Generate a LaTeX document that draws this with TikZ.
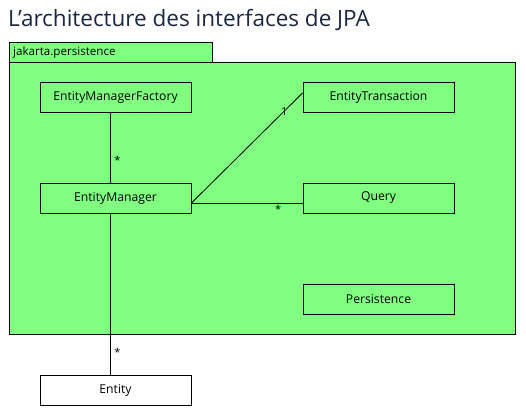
\documentclass[tikz,border=0pt]{standalone}
\usepackage{fontspec}
\setmainfont{Open Sans}
\usetikzlibrary{positioning}
\definecolor{pkggreen}{RGB}{128,255,128}
\definecolor{titleblue}{RGB}{28,40,64}
\tikzset{
  classbox/.style={draw=black, line width=0.9pt, fill=pkggreen, minimum width=151pt, minimum height=30pt, inner sep=0pt, font=\fontsize{12.2}{14}\selectfont},
  extbox/.style={classbox, fill=white},
  assoc/.style={draw=black, line width=0.8pt},
  mult/.style={font=\fontsize{11}{12}\selectfont, inner sep=0pt}
}

\begin{document}
\begin{tikzpicture}[x=1pt, y=-1pt]
		
		\useasboundingbox (0,0) rectangle (526,414);
		
		% Title
		\node[anchor=base west, inner sep=0pt, text=titleblue, font=\fontsize{22.5}{26}\selectfont] (title) at (8,27) {L’architecture des interfaces de JPA};
		
		% Package
		\draw[line width=0.9pt, fill=pkggreen] (9,42) rectangle (212,62);
		\draw[line width=0.9pt, fill=pkggreen] (9,62) rectangle (515,334);
		\node[anchor=west, inner sep=0pt, font=\fontsize{11.6}{13}\selectfont] (pkg) at (13,52) {jakarta.persistence};
		
		% Define nodes
		\node[classbox] (emf)   at (115.5,97)  {EntityManagerFactory};
		\node[classbox] (et)    at (378.5,97)  {EntityTransaction};
		\node[classbox] (em)    at (115.5,198) {EntityManager};
		\node[classbox] (query) at (378.5,198) {Query};
		\node[classbox] (pers)  at (378.5,299) {Persistence};
		\node[extbox]   (ent)   at (115.5,390.5) {Entity};
		
		% Connect the nodes
		\draw[assoc] ([xshift=-5.5pt]emf.south) -- ([xshift=-5.5pt]em.north) node[mult, pos=0.68, right=4pt] {*};
		\draw[assoc] ([yshift=-5pt]em.east) -- ([yshift=4pt]et.west) node[mult, pos=0.835] {1};
		\draw[assoc] ([yshift=-5pt]em.east) -- ([yshift=-5pt]query.west) node[mult, pos=0.78, below=2pt] {*};
		\draw[assoc] ([xshift=-5.5pt]em.south) -- ([xshift=-5.5pt]ent.north) node[mult, pos=0.86, right=4pt] {*};
		
		\end{tikzpicture}
\end{document}
